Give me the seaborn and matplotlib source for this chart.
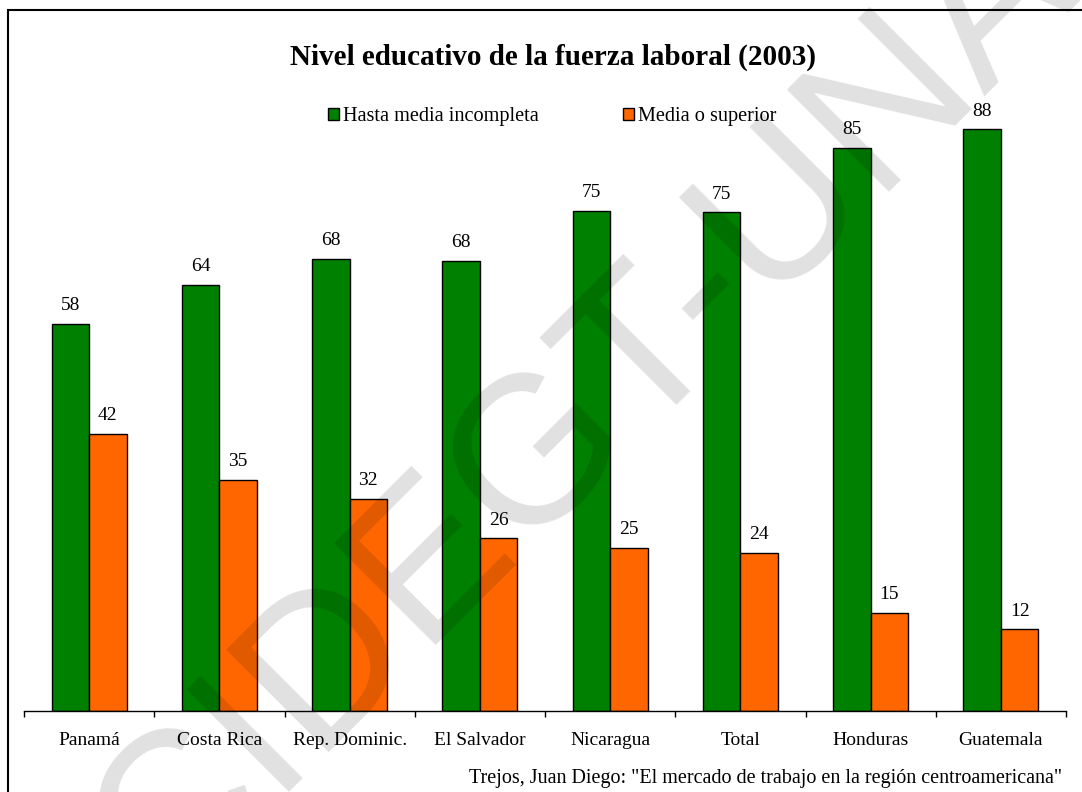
import matplotlib
matplotlib.use("Agg")
import matplotlib.pyplot as plt
import matplotlib.patches as mpatches
import seaborn as sns
import pandas as pd

# ---- data ----
countries = ["Panamá", "Costa Rica", "Rep. Dominic.", "El Salvador",
             "Nicaragua", "Total", "Honduras", "Guatemala"]
series_names = ["Hasta media incompleta", "Media o superior"]
hasta_media = [58.3, 64.2, 68.1, 67.8, 75.3, 75.1, 84.8, 87.6]
media_superior = [41.7, 34.8, 31.9, 26.0, 24.6, 23.8, 14.8, 12.3]
title_text = "Nivel educativo de la fuerza laboral (2003)"
source_text = 'Trejos, Juan Diego: "El mercado de trabajo en la región centroamericana"'
watermark_text = "CIDEGT-UNAH"

colors = ["#008000", "#FF6600"]

df = pd.DataFrame({
    "pais": countries * 2,
    "valor": hasta_media + media_superior,
    "serie": [series_names[0]] * len(countries) + [series_names[1]] * len(countries),
})

sns.set_style("white")
plt.rcParams["font.family"] = ["Liberation Serif", "DejaVu Serif"]
plt.rcParams["text.color"] = "black"
plt.rcParams["xtick.color"] = "black"
plt.rcParams["xtick.labelcolor"] = "black"

fig = plt.figure(figsize=(10.82, 7.92), dpi=100)
ax = fig.add_axes([24 / 1082, 1 - 711 / 792, (1066 - 24) / 1082, 664 / 792])

sns.barplot(data=df, x="pais", y="valor", hue="serie", order=countries,
            hue_order=series_names, palette=colors, width=0.575,
            edgecolor="black", linewidth=1.0, saturation=1, ax=ax, legend=False)

ax.set_xlim(-0.5, len(countries) - 0.5)
ax.set_ylim(0, 100)
ax.set_xlabel("")
ax.set_ylabel("")
ax.set_yticks([])
for s in ["left", "right", "top"]:
    ax.spines[s].set_visible(False)
ax.spines["bottom"].set_color("black")
ax.spines["bottom"].set_linewidth(1.0)
ax.set_xticks(range(len(countries)))
ax.set_xticklabels(countries, fontsize=14, color="black")
ax.set_xticks([i - 0.5 for i in range(len(countries) + 1)], minor=True)
ax.tick_params(axis="x", which="major", length=0, pad=15, colors="black")
ax.tick_params(axis="x", which="minor", length=4.5, width=1.0, direction="out",
               color="black", bottom=True)
ax.patch.set_alpha(0)

for cont, vals in zip(ax.containers, [hasta_media, media_superior]):
    ax.bar_label(cont, labels=[f"{v:.0f}" for v in vals], padding=7,
                 fontsize=14, color="black")

# title
fig.text(553 / 1082, 1 - 57 / 792, title_text, ha="center", va="center",
         fontsize=21, fontweight="bold", color="black")

# legend
handles = [mpatches.Patch(facecolor=c, edgecolor="black", linewidth=1.0) for c in colors]
leg = fig.legend(handles, series_names, loc="center left",
                 bbox_to_anchor=(328 / 1082, 1 - 117 / 792), ncol=2, frameon=False,
                 fontsize=14.6, handlelength=0.55, handleheight=0.55, handletextpad=0.2,
                 columnspacing=4.15, borderpad=0, borderaxespad=0)
for t in leg.get_texts():
    t.set_color("black")

# source
fig.text(1062 / 1082, 1 - 778 / 792, source_text, ha="right", va="center",
         fontsize=14.5, color="black")

# frame around chart
frame = mpatches.Rectangle((8 / 1082, -0.1), 1.2, 1 - 10 / 792 + 0.1,
                           transform=fig.transFigure, fill=False,
                           edgecolor="black", linewidth=1.5, zorder=20)
fig.patches.append(frame)

# watermark
fig.text(166 / 1082, 1 - 905 / 792, watermark_text, rotation=45,
         rotation_mode="anchor", ha="left", va="baseline", fontsize=151,
         color="black", alpha=0.12, family="Liberation Sans", zorder=30)

fig.savefig("out.png", dpi=100)
